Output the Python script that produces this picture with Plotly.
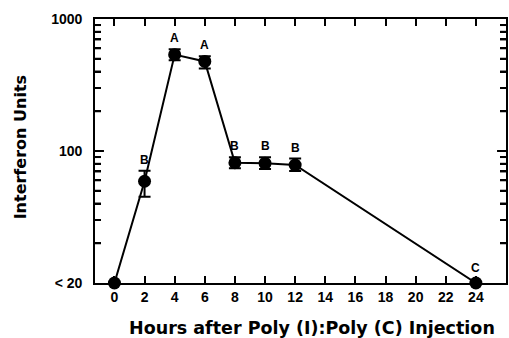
import math
import plotly.graph_objects as go

hours = [0, 2, 4, 6, 8, 10, 12, 24]
units = [10, 59, 537, 477, 81.5, 80.7, 78.3, 10]
err_plus = [0, 12, 53, 45, 8, 8.8, 9.4, 0]
err_minus = [0, 14, 50, 56, 7.5, 7.6, 7.8, 0]
letters = ["", "B", "A", "A", "B", "B", "B", "C"]

x_ticks = list(range(0, 25, 2))
y_ticks = [10, 100, 1000]
y_ticktext = ["< 20", "100", "1000"]
y_minor = [20, 30, 40, 50, 60, 70, 80, 90, 200, 300, 400, 500, 600, 700, 800, 900]

FONT = "Liberation Sans"
TFONT = "DejaVu Sans"
PAD = "\u00a0\u00a0"
X_RANGE = [-1.29, 26.0]
PLOT_W = 413  # plot-area width in px

all_y = y_ticks + y_minor
all_text = ["<b>%s</b>%s" % (t, PAD) for t in y_ticktext] + [""] * len(y_minor)

fig = go.Figure()
fig.add_trace(go.Scatter(
    x=hours, y=units, mode="lines+markers",
    line=dict(color="black", width=2),
    marker=dict(color="black", size=13),
    error_y=dict(type="data", array=err_plus, arrayminus=err_minus,
                 color="black", thickness=2, width=6),
    cliponaxis=False, showlegend=False,
))

for h, u, ep, lab in zip(hours, units, err_plus, letters):
    if lab:
        fig.add_annotation(x=h, y=math.log10(u + ep), text="<b>%s</b>" % lab,
                           showarrow=False, yshift=11 if ep else 15,
                           font=dict(family=FONT, size=12, color="black"))

fig.add_annotation(xref="paper", yref="paper", x=(313.5 - 95) / 413, y=-(328 - 283) / 264,
                   text="<b>Hours after Poly (I):Poly (C) Injection</b>", showarrow=False,
                   xanchor="center", yanchor="middle",
                   font=dict(family=TFONT, size=17.5, color="black"))
fig.add_annotation(xref="paper", yref="paper", x=-(95 - 20) / 413, y=(283 - 147) / 264,
                   text="<b>Interferon Units</b>", showarrow=False, textangle=-90,
                   xanchor="center", yanchor="middle",
                   font=dict(family=TFONT, size=16, color="black"))

# y tick marks on both sides, positioned through the x/y data scales
span = X_RANGE[1] - X_RANGE[0]
for v in y_ticks[1:-1] + y_minor:
    tl = (9 if v in y_ticks else 6) * span / PLOT_W
    fig.add_shape(type="line", xref="x", yref="y", x0=X_RANGE[0], x1=X_RANGE[0] + tl,
                  y0=v, y1=v, line=dict(color="black", width=2))
    fig.add_shape(type="line", xref="x", yref="y", x0=X_RANGE[1] - tl, x1=X_RANGE[1],
                  y0=v, y1=v, line=dict(color="black", width=2))

fig.update_layout(
    width=509, height=338,
    margin=dict(l=95, r=1, t=19, b=55),
    paper_bgcolor="white", plot_bgcolor="white",
    font=dict(family=FONT, color="black"),
    xaxis=dict(
        range=X_RANGE, tickvals=x_ticks,
        ticktext=["<b>%d</b>" % v for v in x_ticks],
        ticks="inside", ticklen=7, tickwidth=2, tickcolor="black",
        showline=True, linewidth=2, linecolor="black", mirror="ticks",
        showgrid=False, zeroline=False,
        tickfont=dict(family=FONT, size=14, color="black"),
    ),
    yaxis=dict(
        type="log", range=[1, 3], tickvals=all_y, ticktext=all_text,
        ticks="inside", ticklen=6, tickwidth=2, tickcolor="black",
        showline=True, linewidth=2, linecolor="black", mirror="ticks",
        showgrid=False, zeroline=False,
        tickfont=dict(family=FONT, size=14, color="black"),
    ),
)

fig.write_html("out.html")
